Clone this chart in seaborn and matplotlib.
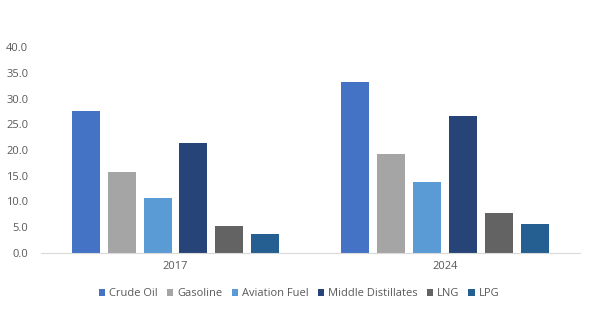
import matplotlib
matplotlib.use("Agg")
import matplotlib.pyplot as plt
import seaborn as sns
import pandas as pd

years = ["2017", "2024"]
fuels = ["Crude Oil", "Gasoline", "Aviation Fuel", "Middle Distillates", "LNG", "LPG"]
values_2017 = [27.6, 15.7, 10.6, 21.4, 5.2, 3.6]
values_2024 = [33.2, 19.2, 13.7, 26.6, 7.7, 5.6]
colors = ["#4472C4", "#A5A5A5", "#5B9BD5", "#264478", "#636363", "#255E91"]
yticks = [0, 5, 10, 15, 20, 25, 30, 35, 40]

rows = []
for year, vals in zip(years, [values_2017, values_2024]):
    for fuel, v in zip(fuels, vals):
        rows.append({"Year": year, "Fuel": fuel, "Value": v})
df = pd.DataFrame(rows)

sns.set_style("white")
plt.rcParams["font.family"] = ["Open Sans", "DejaVu Sans"]

fig = plt.figure(figsize=(5.94, 3.32), dpi=100)
ax = fig.add_axes([40.75 / 594, 1 - 252.7 / 332, 539 / 594, 205.4 / 332])

sns.barplot(data=df, x="Year", y="Value", hue="Fuel", hue_order=fuels,
            palette=colors, width=0.8, gap=0.22, saturation=1,
            linewidth=0, ax=ax, legend=False, errorbar=None)

ax.set_ylim(0, 40)
ax.set_yticks(yticks)
ax.set_yticklabels([f"{t:.1f}" for t in yticks])
ax.set_xlabel("")
ax.set_ylabel("")
ax.tick_params(axis="both", length=0, labelsize=8, colors="#595959")
ax.tick_params(axis="y", pad=9)
ax.tick_params(axis="x", pad=6)
for side in ["top", "right", "left"]:
    ax.spines[side].set_visible(False)
ax.spines["bottom"].set_color("#D9D9D9")
ax.spines["bottom"].set_linewidth(0.8)

handles = [plt.Rectangle((0, 0), 1, 1, color=c, linewidth=0) for c in colors]
fig.legend(handles, fuels, loc="center", bbox_to_anchor=(299 / 594, 1 - 294 / 332),
           ncol=6, frameon=False, fontsize=8, handlelength=0.55, handleheight=0.55,
           handletextpad=0.35, columnspacing=0.85, labelcolor="#595959")

fig.savefig("out.png", dpi=100)
